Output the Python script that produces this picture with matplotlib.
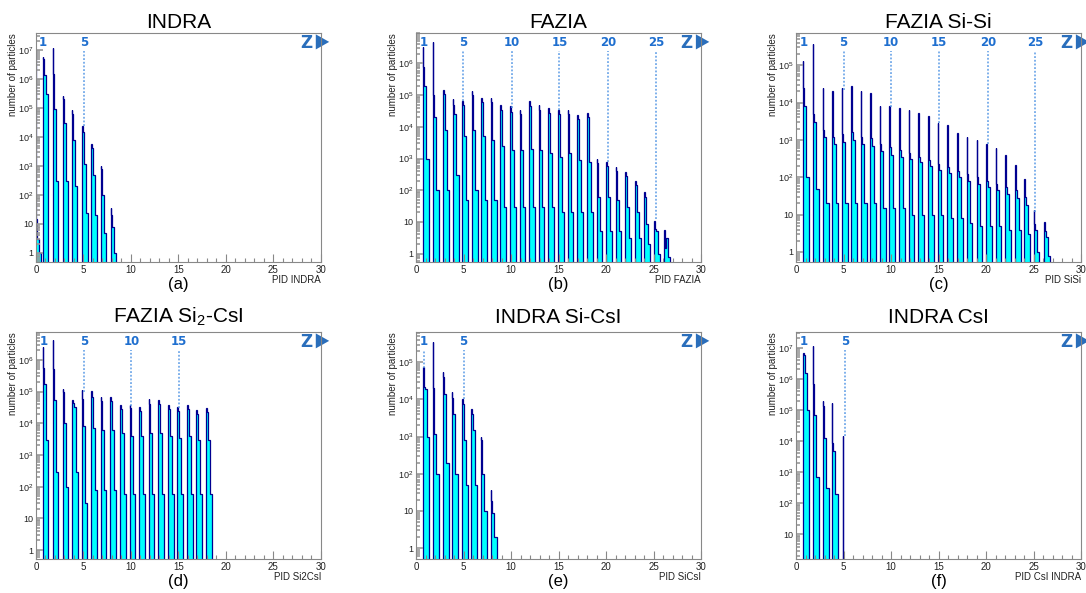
import matplotlib
matplotlib.use('Agg')
import matplotlib.pyplot as plt
from matplotlib.patches import Polygon
from matplotlib.ticker import MultipleLocator, FixedLocator, FuncFormatter, NullFormatter
import numpy as np

plt.rcParams['font.family'] = ['Liberation Sans', 'DejaVu Sans']
plt.rcParams['mathtext.fontset'] = 'custom'
plt.rcParams['mathtext.rm'] = 'Liberation Sans'
plt.rcParams['mathtext.default'] = 'regular'

# ---- (a) INDRA ----
a_pos = [0.12, 0.9, 1.95, 3.0, 3.95, 5.05, 6.0, 7.0, 8.05]
a_peak = [1e7, 6e6, 1.2e7, 2.5e5, 8.7e4, 2.3e4, 5.7e3, 1e3, 34]
a_fill = [15, 5e6, 1.5e6, 2e5, 6e4, 1.5e4, 4e3, 8e2, 20]
a_shoulder = [3, 1.4e6, 9e4, 3e4, 8e3, 1.2e3, 5e2, 1e2, 8]
a_foot = [1, 3e5, 300, 300, 200, 23, 20, 5, 1]
a_labels = [1, 5]
a_label_x = [0.75, 5.1]
a_line_end = [None, 2.3e4]

# ---- (b) FAZIA ----
b_pos = [0.9, 1.95, 3.05, 4.05, 5.05, 6.05, 7.05, 8.05, 9.05, 10.1, 11.1, 12.1, 13.1,
         14.1, 15.15, 16.15, 17.15, 18.2, 19.2, 20.2, 21.2, 22.25, 23.25, 24.25, 25.25, 26.3]
b_peak = [3.2e6, 4.9e6, 1.5e5, 7.3e4, 6.5e4, 1.35e5, 8.3e4, 8.3e4, 5e4, 4.5e4, 3.5e4, 6.5e4, 5e4,
          3.8e4, 3.5e4, 3.5e4, 2.4e4, 2.7e4, 1e3, 8e2, 5.5e2, 3.8e2, 2e2, 88, 11, 5.5]
b_fill = [8e5, 1e5, 1.1e5, 5e4, 5e4, 1e5, 6e4, 6e4, 3.5e4, 3e4, 2.5e4, 4.5e4, 3.5e4,
          2.7e4, 2.5e4, 2.5e4, 1.8e4, 2e4, 7e2, 6e2, 4e2, 2.8e2, 1.5e2, 60, 6, 1.5]
b_shoulder = [2e5, 2e4, 8e3, 2.5e4, 5e3, 8e3, 5e3, 3.9e3, 2.4e3, 1.9e3, 1.9e3, 2e3, 1.9e3,
              1.5e3, 1.1e3, 1.5e3, 9e2, 8e2, 60, 60, 50, 29, 20, 8.6, 5, 3]
b_foot = [1e3, 100, 100, 300, 50, 100, 50, 50, 30, 30, 30, 30, 30,
          30, 20, 20, 20, 20, 5, 5, 5, 3, 3, 2, 1, 0.8]
b_labels = [1, 5, 10, 15, 20, 25]
b_label_x = [0.8, 4.95, 10.05, 15.1, 20.2, 25.25]
b_line_end = [None, 6.5e4, 4e4, 3.5e4, 8e2, 12]

# ---- (c) FAZIA Si-Si ----
c_pos = [0.9, 1.95, 3.0, 4.0, 5.0, 6.0, 7.0, 8.0, 9.0, 10.0, 11.05, 12.05, 13.05,
         14.1, 15.1, 16.1, 17.15, 18.15, 19.2, 20.2, 21.2, 22.2, 23.25, 24.25, 25.2, 26.3]
c_peak = [1.3e5, 3.7e5, 2.5e4, 2e4, 2.5e4, 2.8e4, 2e4, 1.8e4, 8e3, 8e3, 7e3, 6.5e3, 5.3e3,
          4.3e3, 2.8e3, 2.5e3, 1.5e3, 1.2e3, 1e3, 8e2, 6e2, 4e2, 2.1e2, 92, 13, 6.2]
c_fill = [2.5e4, 5e3, 1.9e3, 1.2e3, 1.4e3, 1.6e3, 1.2e3, 1.1e3, 8e2, 6.6e2, 5.4e2, 4.4e2, 3.5e2,
          2.9e2, 2.3e2, 1.9e2, 1.5e2, 1.2e2, 1e2, 80, 65, 55, 45, 30, 5.6, 3.7]
c_shoulder = [8e3, 3e3, 1.2e3, 8e2, 9e2, 1e3, 8e2, 7e2, 5e2, 4e2, 3.5e2, 3e2, 2.5e2,
              2e2, 1.6e2, 1.3e2, 1e2, 80, 65, 55, 45, 35, 28, 18, 4, 2.5]
c_foot = [100, 50, 20, 20, 20, 20, 20, 20, 15, 15, 15, 10, 10,
          10, 10, 8, 8, 6, 5, 5, 5, 4, 4, 3, 1, 0.8]
c_labels = [1, 5, 10, 15, 20, 25]
c_label_x = [0.8, 5.0, 9.95, 15.05, 20.2, 25.15]
c_line_end = [None, 2.2e4, 7.5e3, 2.8e3, 8e2, 12]

# ---- (d) FAZIA Si2-CsI ----
d_pos = [0.9, 1.95, 3.0, 4.0, 5.0, 6.0, 7.0, 8.0, 9.05, 10.05, 11.05, 12.05, 13.1,
         14.1, 15.1, 16.1, 17.1, 18.15]
d_peak = [2.6e6, 4.2e6, 1.2e5, 5.4e4, 1.1e5, 1.05e5, 7e4, 7e4, 3.7e4, 3.7e4, 3.3e4, 6e4, 5.4e4,
          3.7e4, 3.3e4, 3.7e4, 2.6e4, 3e4]
d_fill = [5.4e5, 5e5, 1e5, 4.5e4, 6e4, 7e4, 5e4, 5e4, 2.8e4, 3e4, 2.5e4, 4e4, 4e4,
          2.8e4, 2.5e4, 2.8e4, 2e4, 2.2e4]
d_shoulder = [1.8e5, 5.4e4, 1e4, 3.3e4, 8e3, 7e3, 6e3, 6e3, 5e3, 4e3, 4e3, 5e3, 5e3,
              4e3, 3.5e3, 4e3, 3e3, 3e3]
d_foot = [3e3, 300, 100, 300, 30, 80, 80, 80, 60, 60, 60, 60, 60,
          60, 60, 60, 60, 60]
d_labels = [1, 5, 10, 15]
d_label_x = [0.85, 5.05, 10.05, 15.05]
d_line_end = [None, 1e5, 3.5e4, 3e4]

# ---- (e) INDRA Si-CsI ----
e_pos = [0.95, 1.95, 3.0, 3.95, 5.05, 6.0, 7.0, 8.05]
e_peak = [7.4e4, 3.4e5, 5.4e4, 1.6e4, 1e4, 5.6e3, 9.8e2, 36]
e_fill = [2.1e4, 2e4, 4e4, 1.1e4, 7.6e3, 4e3, 8e2, 18]
e_shoulder = [1.9e4, 1.2e3, 1.4e4, 4e3, 8e2, 1.5e3, 1e2, 8.7]
e_foot = [1e3, 100, 200, 100, 50, 50, 10, 2]
e_labels = [1, 5]
e_label_x = [0.85, 5.0]
e_line_end = [7e4, 1e4]

# ---- (f) INDRA CsI ----
f_pos = [0.95, 1.95, 3.0, 3.95, 5.1]
f_peak = [7e6, 1.1e7, 1.9e5, 1.7e5, 1.4e4]
f_fill = [6e6, 6.6e5, 1.3e5, 8.7e3, 1]
f_shoulder = [1.5e6, 7e4, 1.25e4, 4.7e3, 1]
f_foot = [1e5, 700, 300, 200, 1]
f_labels = [1, 5]
f_label_x = [0.85, 5.15]
f_line_end = [None, 1.4e4]

# bin edges of one peak, relative to its position:
# narrow spike bin, top bin, shoulder bin, foot bin
offsets = np.array([-0.2, -0.13, -0.02, 0.18, 0.42])
blue = '#2a6ebb'


def ytick_fmt(v, _):
    n = int(round(np.log10(v)))
    if n == 0:
        return '1'
    if n == 1:
        return '10'
    return r'$10^{%d}$' % n


def draw_panel(ax, title, pos, peak, fill, shoulder, foot, ylim,
               labels, label_x, line_end, xlabel, tag, title_y):
    base = ylim[0] * 0.3
    for p, pk, fl, sh, ft in zip(pos, peak, fill, shoulder, foot):
        edges = p + offsets
        ax.stairs([fl, fl, sh, ft], edges, baseline=base, fill=True, color='#00ffff', lw=0)
        ax.stairs([fl, fl, sh, ft], edges, baseline=base, color='#7070dd', lw=0.6)
        ax.stairs([pk, fl, sh, ft], edges, baseline=base, color='#000090', lw=0.9)

    ax.set_yscale('log')
    ax.set_xlim(0, 30)
    ax.set_ylim(*ylim)

    # Z labels with dotted guides
    lo, hi = np.log10(ylim[0]), np.log10(ylim[1])
    ytop = 10 ** (lo + 0.92 * (hi - lo))
    for lab, lx, le in zip(labels, label_x, line_end):
        ax.text(lx, 0.958, str(lab), transform=ax.get_xaxis_transform(),
                ha='center', va='center', fontsize=8.5, fontweight='bold',
                color='#1f6fcf', family='DejaVu Sans')
        if le is not None and le < ytop:
            ax.plot([lx, lx], [le, ytop], ls=(0, (1.2, 1.2)), lw=1.1, color='#5b9be6')
    ax.text(0.95, 0.957, 'Z', transform=ax.transAxes, ha='center', va='center',
            fontsize=12, fontweight='bold', color=blue, family='DejaVu Sans')
    ax.add_patch(Polygon([(0.982, 0.994), (0.982, 0.928), (1.029, 0.961)],
                         closed=True, transform=ax.transAxes, color=blue,
                         clip_on=False, lw=0))

    # only ticks that lie inside the view
    decades = range(int(np.ceil(lo)), int(np.floor(hi)) + 1)
    minors = [m * 10.0 ** n for n in range(int(np.floor(lo)), int(np.ceil(hi)) + 1)
              for m in range(2, 10) if ylim[0] <= m * 10.0 ** n <= ylim[1]]
    ax.xaxis.set_major_locator(MultipleLocator(5))
    ax.xaxis.set_minor_locator(MultipleLocator(1))
    ax.yaxis.set_major_locator(FixedLocator([10.0 ** n for n in decades]))
    ax.yaxis.set_minor_locator(FixedLocator(minors))
    ax.yaxis.set_major_formatter(FuncFormatter(ytick_fmt))
    ax.yaxis.set_minor_formatter(NullFormatter())
    ax.tick_params(axis='x', which='both', direction='in', top=False, color='#888888',
                   labelsize=7, labelcolor='#222222', pad=2)
    ax.tick_params(axis='x', which='major', length=5.5, width=0.8)
    ax.tick_params(axis='x', which='minor', length=3, width=0.8)
    ax.tick_params(axis='y', which='both', direction='in', right=False, color='#999999',
                   labelsize=6.5, labelcolor='#222222', pad=2)
    ax.tick_params(axis='y', which='major', length=5, width=1.2)
    ax.tick_params(axis='y', which='minor', length=3, width=1.2)
    for s in ax.spines.values():
        s.set_color('#888888')
        s.set_linewidth(0.8)

    ax.text(1.0, -0.055, xlabel, transform=ax.transAxes, ha='right', va='top',
            fontsize=7, color='#222222')
    ax.text(-0.08, 1.0, 'number of particles', transform=ax.transAxes, rotation=90,
            ha='center', va='top', fontsize=7, color='#222222')
    ax.text(0.5, -0.1, tag, transform=ax.transAxes, ha='center', va='center', fontsize=12)

    bb = ax.get_position()
    ax.figure.text(bb.x0 + bb.width / 2, title_y, title, ha='center', va='baseline', fontsize=15)


fig = plt.figure(figsize=(10.86, 5.93), dpi=100)
lefts = [0.0331, 0.3831, 0.7330]
w = 0.2624
top_row = [fig.add_axes([l, 0.5582, w, 0.3862]) for l in lefts]
bot_row = [fig.add_axes([l, 0.0573, w, 0.3828]) for l in lefts]

draw_panel(top_row[0], 'INDRA', a_pos, a_peak, a_fill, a_shoulder, a_foot, (0.48, 3.9e7),
           a_labels, a_label_x, a_line_end, 'PID INDRA', '(a)', 0.952)
draw_panel(top_row[1], 'FAZIA', b_pos, b_peak, b_fill, b_shoulder, b_foot, (0.54, 9.2e6),
           b_labels, b_label_x, b_line_end, 'PID FAZIA', '(b)', 0.952)
draw_panel(top_row[2], 'FAZIA Si-Si', c_pos, c_peak, c_fill, c_shoulder, c_foot, (0.54, 7.3e5),
           c_labels, c_label_x, c_line_end, 'PID SiSi', '(c)', 0.952)
draw_panel(bot_row[0], 'FAZIA Si$_2$-CsI', d_pos, d_peak, d_fill, d_shoulder, d_foot, (0.52, 7.6e6),
           d_labels, d_label_x, d_line_end, 'PID Si2CsI', '(d)', 0.456)
draw_panel(bot_row[1], 'INDRA Si-CsI', e_pos, e_peak, e_fill, e_shoulder, e_foot, (0.51, 6.5e5),
           e_labels, e_label_x, e_line_end, 'PID SiCsI', '(e)', 0.456)
draw_panel(bot_row[2], 'INDRA CsI', f_pos, f_peak, f_fill, f_shoulder, f_foot, (1.6, 3.2e7),
           f_labels, f_label_x, f_line_end, 'PID CsI INDRA', '(f)', 0.456)

fig.savefig('out.png', dpi=100)
